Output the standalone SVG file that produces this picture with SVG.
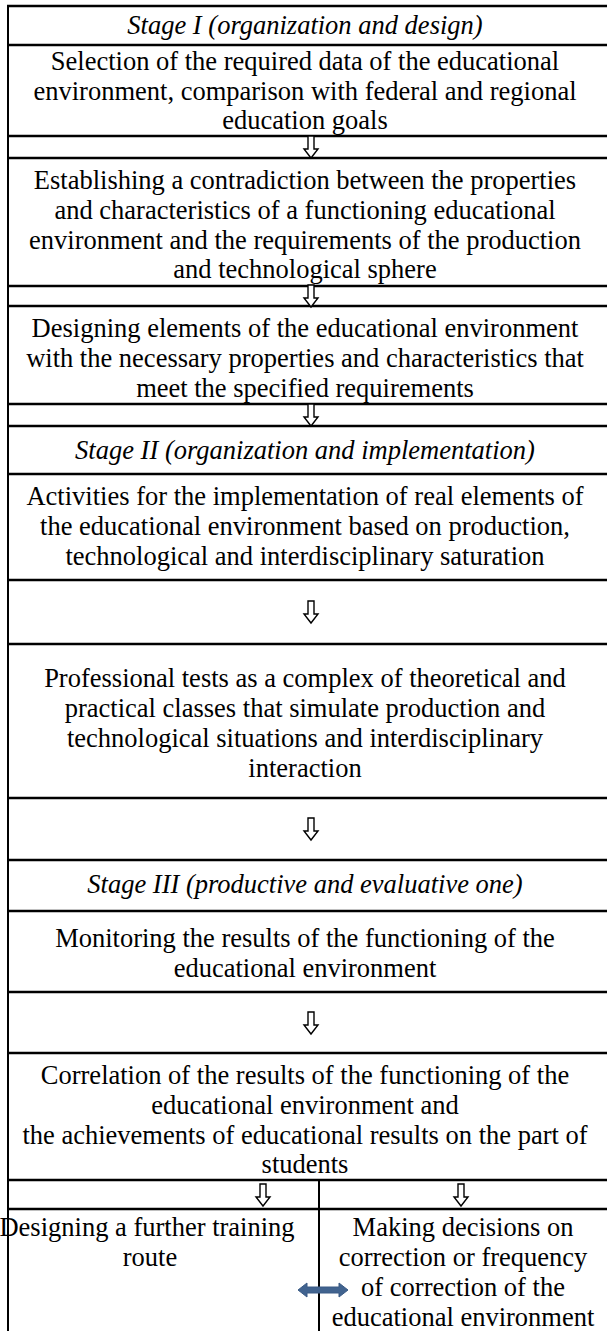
<svg xmlns="http://www.w3.org/2000/svg" width="607" height="1331" viewBox="0 0 607 1331">
  <style>
    .t { font-family: "Liberation Serif", "Times New Roman", serif; font-size: 26.5px; fill: #000; text-anchor: middle; }
    .stage { font-style: italic; }
    .rule { stroke: #000; stroke-width: 2.5; fill: none; }
    .frame { stroke: #000; stroke-width: 2; fill: none; }
    .flow { fill: #fff; stroke: #000; stroke-width: 1.4; stroke-linejoin: miter; }
    .link { fill: #41638f; stroke: #3a5a85; stroke-width: 1; stroke-linejoin: round; }
  </style>
  <defs>
    <!-- hollow down arrow used between table rows -->
    <path id="down" d="M-3,-11 L3,-11 L3,2 L7,2 L0,11 L-7,2 L-3,2 Z"/>
  </defs>

  <rect x="0" y="0" width="607" height="1331" fill="#fff"/>

  <!-- table frame -->
  <g id="frame">
    <line class="frame" x1="8" y1="5" x2="8" y2="1331"/>
    <line class="rule" x1="7" y1="6" x2="607" y2="6"/>
    <line class="rule" x1="7" y1="45" x2="607" y2="45"/>
    <line class="rule" x1="7" y1="136" x2="607" y2="136"/>
    <line class="rule" x1="7" y1="158" x2="607" y2="158"/>
    <line class="rule" x1="7" y1="286" x2="607" y2="286"/>
    <line class="rule" x1="7" y1="306" x2="607" y2="306"/>
    <line class="rule" x1="7" y1="404" x2="607" y2="404"/>
    <line class="rule" x1="7" y1="426" x2="607" y2="426"/>
    <line class="rule" x1="7" y1="474" x2="607" y2="474"/>
    <line class="rule" x1="7" y1="580" x2="607" y2="580"/>
    <line class="rule" x1="7" y1="644" x2="607" y2="644"/>
    <line class="rule" x1="7" y1="798" x2="607" y2="798"/>
    <line class="rule" x1="7" y1="860" x2="607" y2="860"/>
    <line class="rule" x1="7" y1="911" x2="607" y2="911"/>
    <line class="rule" x1="7" y1="992" x2="607" y2="992"/>
    <line class="rule" x1="7" y1="1053" x2="607" y2="1053"/>
    <line class="rule" x1="7" y1="1180" x2="607" y2="1180"/>
    <line class="rule" x1="7" y1="1209" x2="607" y2="1209"/>
    <line class="frame" x1="319" y1="1180" x2="319" y2="1331"/>
  </g>

  <g id="stage1">
    <text class="t stage" x="305" y="34">Stage I (organization and design)</text>
  </g>
  <g id="selection">
    <text class="t" x="305" y="70">Selection of the required data of the educational</text>
    <text class="t" x="305" y="100">environment, comparison with federal and regional</text>
    <text class="t" x="305" y="129">education goals</text>
  </g>
  <g id="contradiction">
    <text class="t" x="305" y="189">Establishing a contradiction between the properties</text>
    <text class="t" x="305" y="219">and characteristics of a functioning educational</text>
    <text class="t" x="305" y="249">environment and the requirements of the production</text>
    <text class="t" x="305" y="278">and technological sphere</text>
  </g>
  <g id="designing">
    <text class="t" x="305" y="337">Designing elements of the educational environment</text>
    <text class="t" x="305" y="367">with the necessary properties and characteristics that</text>
    <text class="t" x="305" y="397">meet the specified requirements</text>
  </g>
  <g id="stage2">
    <text class="t stage" x="305" y="459">Stage II (organization and implementation)</text>
  </g>
  <g id="activities">
    <text class="t" x="305" y="505">Activities for the implementation of real elements of</text>
    <text class="t" x="305" y="535">the educational environment based on production,</text>
    <text class="t" x="305" y="565">technological and interdisciplinary saturation</text>
  </g>
  <g id="tests">
    <text class="t" x="305" y="687">Professional tests as a complex of theoretical and</text>
    <text class="t" x="305" y="717">practical classes that simulate production and</text>
    <text class="t" x="305" y="747">technological situations and interdisciplinary</text>
    <text class="t" x="305" y="777">interaction</text>
  </g>
  <g id="stage3">
    <text class="t stage" x="305" y="893">Stage III (productive and evaluative one)</text>
  </g>
  <g id="monitoring">
    <text class="t" x="305" y="947">Monitoring the results of the functioning of the</text>
    <text class="t" x="305" y="977">educational environment</text>
  </g>
  <g id="correlation">
    <text class="t" x="305" y="1084">Correlation of the results of the functioning of the</text>
    <text class="t" x="305" y="1114">educational environment and</text>
    <text class="t" x="305" y="1144">the achievements of educational results on the part of</text>
    <text class="t" x="305" y="1173">students</text>
  </g>
  <g id="route">
    <text class="t" x="147" y="1236">Designing a further training</text>
    <text class="t" x="150" y="1266">route</text>
  </g>
  <g id="decisions">
    <text class="t" x="463" y="1236">Making decisions on</text>
    <text class="t" x="463" y="1266">correction or frequency</text>
    <text class="t" x="463" y="1296">of correction of the</text>
    <text class="t" x="463" y="1326">educational environment</text>
  </g>

  <!-- connectors -->
  <g id="connectors">
    <use href="#down" class="flow" x="311" y="147"/>
    <use href="#down" class="flow" x="311" y="296"/>
    <use href="#down" class="flow" x="311" y="415"/>
    <use href="#down" class="flow" x="311" y="612"/>
    <use href="#down" class="flow" x="311" y="829"/>
    <use href="#down" class="flow" x="311" y="1023"/>
    <use href="#down" class="flow" x="263" y="1195"/>
    <use href="#down" class="flow" x="461" y="1195"/>
    <path class="link" d="M298,1290 L307,1283 L307,1287 L339,1287 L339,1283 L348,1290 L339,1297 L339,1293 L307,1293 L307,1297 Z"/>
  </g>
</svg>
